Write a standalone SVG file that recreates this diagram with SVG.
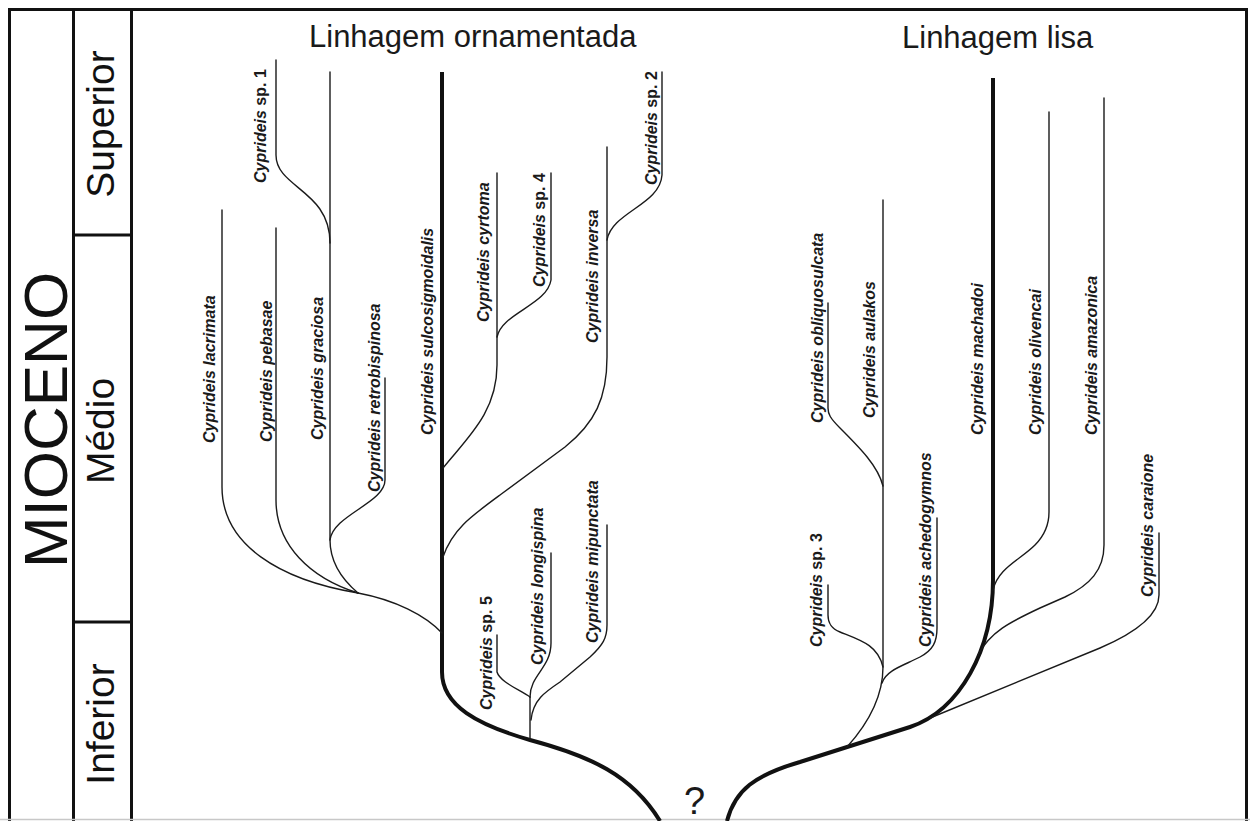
<svg xmlns="http://www.w3.org/2000/svg" width="1250" height="821" viewBox="0 0 1250 821">
<style>
.frame{fill:none;stroke:#111;stroke-width:3}
.thin{fill:none;stroke:#1a1a1a;stroke-width:1.4;stroke-linecap:round}
.thick{fill:none;stroke:#111;stroke-width:4}
.per{font-family:"Liberation Sans",Arial,sans-serif;font-size:39px;fill:#111}
.title{font-family:"Liberation Sans",Arial,sans-serif;font-size:31px;fill:#1a1a1a}
.sp{font-family:"Liberation Sans",Arial,sans-serif;font-size:16px;font-weight:bold;font-style:italic;fill:#1a1a1a}
.up{font-style:normal}
</style>
<rect x="0" y="0" width="1250" height="821" fill="#fff"/>
<g id="timescale">
<path class="frame" d="M9.5,821 V9.5 H1246.5 V821"/>
<path class="frame" d="M73.5,9.5 V821 M131.5,9.5 V821 M73.5,235 H131.5 M73.5,622 H131.5"/>
<line x1="0" y1="819.5" x2="1250" y2="819.5" stroke="#c8c8c8" stroke-width="1.5"/>
<text class="per" transform="translate(67,420) rotate(-90)" text-anchor="middle" style="font-size:62px">MIOCENO</text>
<text class="per" transform="translate(114,124) rotate(-90)" text-anchor="middle">Superior</text>
<text class="per" transform="translate(114,431) rotate(-90)" text-anchor="middle">Médio</text>
<text class="per" transform="translate(114,724) rotate(-90)" text-anchor="middle">Inferior</text>
</g>
<g id="titles">
<text class="title" x="309" y="47">Linhagem ornamentada</text>
<text class="title" x="902" y="48">Linhagem lisa</text>
<text class="title" x="684" y="814" style="font-size:38px">?</text>
</g>
<g id="connectors">
<!-- ornamented lineage trunk -->
<path class="thick" d="M660,821 C632,775 590,756 530,740 C478,725 442,706 442,672 L442,72"/>
<path class="thin" d="M442,633 C425,615 395,600 358,593"/>
<path class="thin" d="M222,210 L222,487 C222,545 280,580 358,593"/>
<path class="thin" d="M276,228 L276,500 C276,545 310,578 358,593"/>
<path class="thin" d="M330,72 L330,540 C330,565 345,582 358,593"/>
<path class="thin" d="M276,60 L276,155 C276,188 330,190 330,243"/>
<path class="thin" d="M385,378 L385,480 C385,503 333,515 330,540"/>
<path class="thin" d="M443,557 C452,530 470,517 500,495 L565,447 C595,423 607,398 607,357 L607,147"/>
<path class="thin" d="M607,240 C612,212 660,205 662,175 L662,72"/>
<path class="thin" d="M443,468 C468,437 497,412 497,365 L497,173"/>
<path class="thin" d="M497,337 C502,313 547,305 551,280 L551,173"/>
<path class="thin" d="M530,740 L530,697"/>
<path class="thin" d="M530,697 C530,675 551,668 551,643 L551,553"/>
<path class="thin" d="M530,697 C520,690 500,682 497,672 L497,635"/>
<path class="thin" d="M531,720 C533,700 545,692 560,682 L590,657 C603,645 607,638 607,625 L607,525"/>
<!-- smooth lineage trunk -->
<path class="thick" d="M727,821 C735,790 755,775 800,762 L910,727 C960,710 993,650 993,580 L993,78"/>
<path class="thin" d="M847,747 C865,727 883,700 883,667 L883,200"/>
<path class="thin" d="M882,683 C886,670 905,665 920,657 C933,650 937,642 937,628 L937,518"/>
<path class="thin" d="M883,667 C878,645 860,640 840,632 C830,628 828,622 828,615 L828,585"/>
<path class="thin" d="M883,486 C878,466 860,448 840,428 C830,418 828,414 828,408 L828,303"/>
<path class="thin" d="M993,590 C998,568 1020,560 1035,545 C1045,535 1049,525 1049,512 L1049,112"/>
<path class="thin" d="M978,655 C990,632 1010,622 1040,608 L1065,597 C1090,585 1104,570 1104,545 L1104,98"/>
<path class="thin" d="M930,718 L1100,648 C1135,633 1159,615 1159,595 L1159,533"/>
</g>
<g id="n-lacrimata"><text class="sp" transform="translate(215,443) rotate(-90)">Cyprideis lacrimata</text></g>
<g id="n-pebasae"><text class="sp" transform="translate(272,442) rotate(-90)">Cyprideis pebasae</text></g>
<g id="n-graciosa"><text class="sp" transform="translate(323,440) rotate(-90)">Cyprideis graciosa</text></g>
<g id="n-retrobispinosa"><text class="sp" transform="translate(380,492) rotate(-90)">Cyprideis retrobispinosa</text></g>
<g id="n-sp1"><text class="sp" transform="translate(266,183) rotate(-90)">Cyprideis <tspan class="up">sp. 1</tspan></text></g>
<g id="n-sulcosigmoidalis"><text class="sp" transform="translate(433,435) rotate(-90)">Cyprideis sulcosigmoidalis</text></g>
<g id="n-cyrtoma"><text class="sp" transform="translate(489,322) rotate(-90)">Cyprideis cyrtoma</text></g>
<g id="n-sp4"><text class="sp" transform="translate(545,287) rotate(-90)">Cyprideis <tspan class="up">sp. 4</tspan></text></g>
<g id="n-inversa"><text class="sp" transform="translate(598,343) rotate(-90)">Cyprideis inversa</text></g>
<g id="n-sp2"><text class="sp" transform="translate(657,185) rotate(-90)">Cyprideis <tspan class="up">sp. 2</tspan></text></g>
<g id="n-sp5"><text class="sp" transform="translate(492,710) rotate(-90)">Cyprideis <tspan class="up">sp. 5</tspan></text></g>
<g id="n-longispina"><text class="sp" transform="translate(543,665) rotate(-90)">Cyprideis longispina</text></g>
<g id="n-mipunctata"><text class="sp" transform="translate(598,643) rotate(-90)">Cyprideis mipunctata</text></g>
<g id="n-obliquosulcata"><text class="sp" transform="translate(823,423) rotate(-90)">Cyprideis obliquosulcata</text></g>
<g id="n-aulakos"><text class="sp" transform="translate(875,418) rotate(-90)">Cyprideis aulakos</text></g>
<g id="n-sp3"><text class="sp" transform="translate(822,647) rotate(-90)">Cyprideis <tspan class="up">sp. 3</tspan></text></g>
<g id="n-achedogymnos"><text class="sp" transform="translate(931,647) rotate(-90)">Cyprideis achedogymnos</text></g>
<g id="n-machadoi"><text class="sp" transform="translate(983,435) rotate(-90)">Cyprideis machadoi</text></g>
<g id="n-olivencai"><text class="sp" transform="translate(1041,435) rotate(-90)">Cyprideis olivencai</text></g>
<g id="n-amazonica"><text class="sp" transform="translate(1097,435) rotate(-90)">Cyprideis amazonica</text></g>
<g id="n-caraione"><text class="sp" transform="translate(1153,597) rotate(-90)">Cyprideis caraione</text></g>
</svg>
